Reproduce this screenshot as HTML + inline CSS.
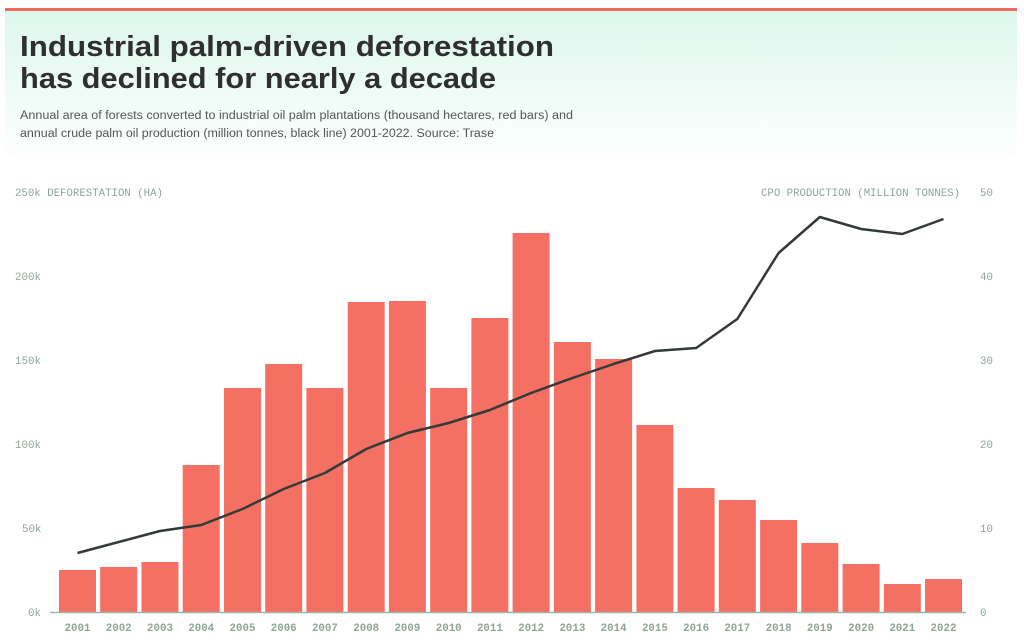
<!DOCTYPE html>
<html><head><meta charset="utf-8"><style>
html,body{margin:0;padding:0;background:#fff;width:1024px;height:644px;overflow:hidden}
svg{display:block}
.t{font-family:"Liberation Sans",sans-serif;font-weight:bold;font-size:29px;fill:#2f2f2f}
.s{font-family:"Liberation Sans",sans-serif;font-size:11.5px;fill:#555}
.m{font-family:"Liberation Mono",monospace;font-size:10.8px;fill:#8fa596}
</style></head><body>
<svg width="1024" height="644" viewBox="0 0 1024 644">
<defs><linearGradient id="g" x1="0" y1="0" x2="0" y2="1">
<stop offset="0" stop-color="#dcf7ec"/><stop offset="1" stop-color="#ffffff"/></linearGradient></defs>
<rect x="5" y="10" width="1012" height="155" fill="url(#g)"/>
<rect x="5" y="8" width="1012" height="3" fill="#f26b5b"/>
<text class="t" x="20" y="56" textLength="534" lengthAdjust="spacingAndGlyphs">Industrial palm-driven deforestation</text>
<text class="t" x="20" y="88" textLength="476" lengthAdjust="spacingAndGlyphs">has declined for nearly a decade</text>
<text class="s" x="20" y="119" textLength="553" lengthAdjust="spacingAndGlyphs">Annual area of forests converted to industrial oil palm plantations (thousand hectares, red bars) and</text>
<text class="s" x="20" y="137" textLength="474" lengthAdjust="spacingAndGlyphs">annual crude palm oil production (million tonnes, black line) 2001-2022. Source: Trase</text>
<g class="m">
<text x="15" y="196" textLength="148" lengthAdjust="spacingAndGlyphs">250k DEFORESTATION (HA)</text>
<text x="15" y="280">200k</text><text x="15" y="364">150k</text><text x="15" y="448">100k</text>
<text x="22" y="532">50k</text><text x="28" y="616">0k</text>
<text x="761" y="196" textLength="199" lengthAdjust="spacingAndGlyphs">CPO PRODUCTION (MILLION TONNES)</text>
<text x="980" y="196">50</text><text x="980" y="280">40</text><text x="980" y="364">30</text>
<text x="980" y="448">20</text><text x="980" y="532">10</text><text x="980" y="616">0</text>
</g>
<g fill="#f37062" id="bars"></g>
<line x1="50" y1="612.5" x2="966" y2="612.5" stroke="#9fb3a6" stroke-width="1.5"/>
<polyline id="ln" fill="none" stroke="#34393b" stroke-width="2.5" stroke-linejoin="round"/>
<g class="m" id="yrs" font-weight="bold" fill="#7f9787"></g>
</svg>
<script>
var tops=[570,567,562,465,388,364,388,302,301,388,318,233,342,359,425,488,500,520,543,564,584,579];
var ly=[553,542,531,525,509,489,473,449,433,423,410,393,378,364,351,348,319,253,217,229,234,219];
var b='',y='',p=[];
for(var i=0;i<22;i++){var x=59+41.24*i;
b+='<rect x="'+x.toFixed(1)+'" y="'+tops[i]+'" width="37" height="'+(612-tops[i])+'"/>';
y+='<text x="'+(x+18.5).toFixed(1)+'" y="631" text-anchor="middle">'+(2001+i)+'</text>';
p.push((x+18.5).toFixed(1)+','+ly[i]);}
document.getElementById('bars').innerHTML=b;
document.getElementById('yrs').innerHTML=y;
document.getElementById('ln').setAttribute('points',p.join(' '));
</script>
</body></html>
